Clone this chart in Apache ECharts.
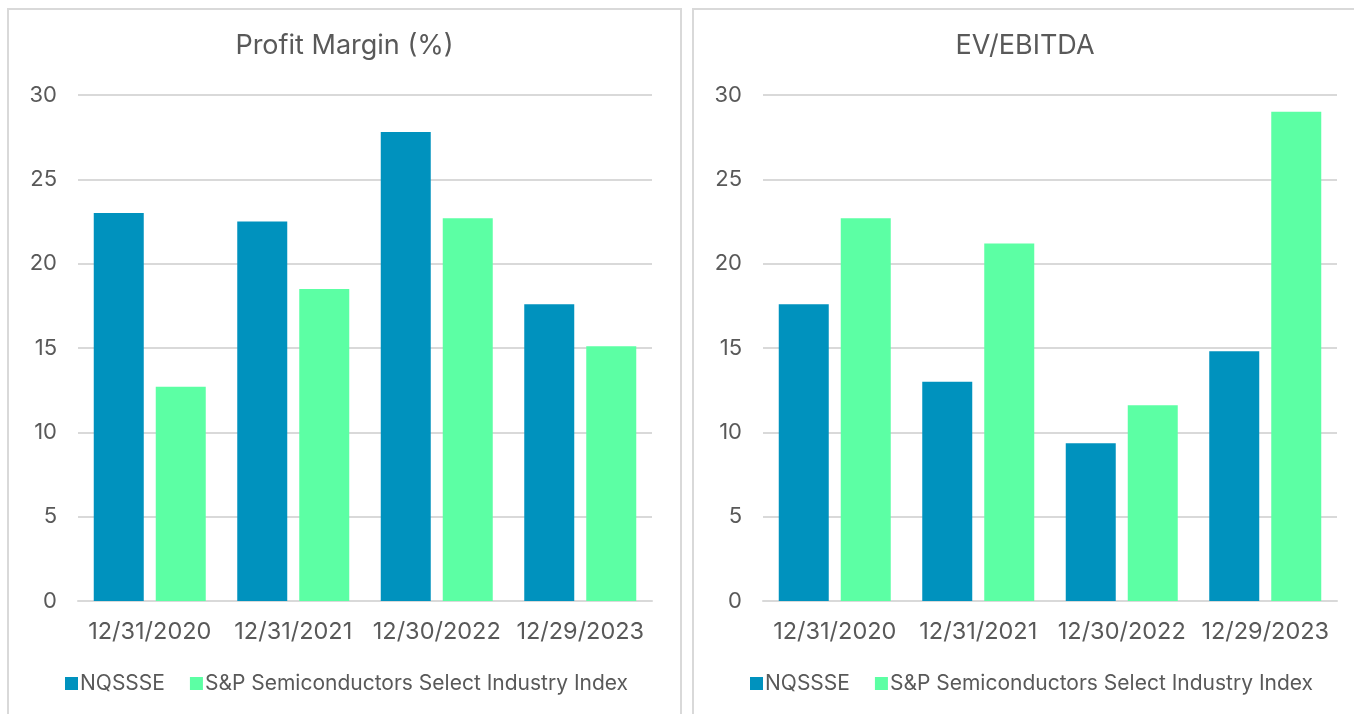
<!DOCTYPE html>
<html lang="en">
<head>
<meta charset="UTF-8">
<title>Profit Margin and EV/EBITDA</title>
<script src="https://cdn.jsdelivr.net/npm/echarts@6/dist/echarts.min.js"></script>
<style>
    html, body {
        margin: 0;
        padding: 0;
        width: 1354px;
        height: 714px;
        overflow: hidden;
        background: #fff;
    }
    .panel {
        position: absolute;
        top: 8px;
        height: 720px;
        border: 2px solid #d9d9d9;
        box-sizing: border-box;
    }
    #pm { left: 7px; width: 675px; }
    #ev { left: 692px; width: 666px; }
</style>
</head>
<body>
<div class="panel" id="pm"></div>
<div class="panel" id="ev"></div>
<script>
    const dates = ['12/31/2020', '12/31/2021', '12/30/2022', '12/29/2023'];
    const seriesNames = ['NQSSSE', 'S&P Semiconductors Select Industry Index'];
    const profitNq = [23.0, 22.5, 27.8, 17.6];
    const profitSp = [12.7, 18.5, 22.7, 15.1];
    const evNq = [17.6, 13.0, 9.35, 14.8];
    const evSp = [22.7, 21.2, 11.6, 29.0];

    const textColor = '#595959';
    const font = 'Inter';

    function buildOption(title, nq, sp) {
        return {
            animation: false,
            title: {
                text: title,
                left: 'center',
                top: 17,
                textStyle: { color: textColor, fontFamily: font, fontSize: 27, fontWeight: 'normal' }
            },
            legend: {
                bottom: 27,
                left: 51,
                itemWidth: 13,
                itemHeight: 13,
                itemGap: 25,
                icon: 'rect',
                textStyle: { color: textColor, fontFamily: font, fontSize: 21, padding: [0, 0, 0, -3] },
                data: seriesNames
            },
            grid: { left: 69, top: 85, width: 574, height: 506, containLabel: false },
            xAxis: {
                type: 'category',
                data: dates,
                axisLine: { lineStyle: { color: '#d9d9d9', width: 2 } },
                axisTick: { show: false },
                axisLabel: { color: textColor, fontFamily: font, fontSize: 23.5, margin: 19, interval: 0 }
            },
            yAxis: {
                type: 'value',
                min: 0,
                max: 30,
                interval: 5,
                axisLine: { show: false },
                axisTick: { show: false },
                splitLine: { lineStyle: { color: '#d9d9d9', width: 2 } },
                axisLabel: { color: textColor, fontFamily: font, fontSize: 22, margin: 21 }
            },
            series: [
                {
                    name: seriesNames[0],
                    type: 'bar',
                    data: nq,
                    barWidth: 50,
                    barGap: '24%',
                    itemStyle: { color: '#0092BE' }
                },
                {
                    name: seriesNames[1],
                    type: 'bar',
                    data: sp,
                    barWidth: 50,
                    barGap: '24%',
                    itemStyle: { color: '#5CFFA4' }
                }
            ]
        };
    }

    const pmChart = echarts.init(document.getElementById('pm'));
    pmChart.setOption(buildOption('Profit Margin (%)', profitNq, profitSp));
    const evChart = echarts.init(document.getElementById('ev'));
    evChart.setOption(buildOption('EV/EBITDA', evNq, evSp));
</script>
</body>
</html>
